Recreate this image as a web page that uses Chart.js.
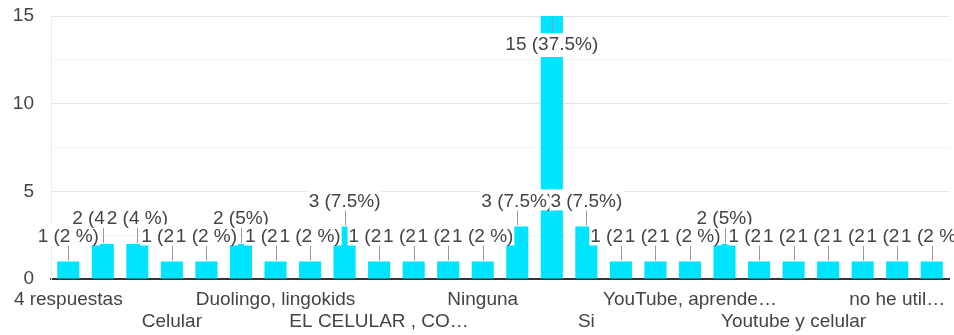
<!DOCTYPE html>
<html>
<head>
<meta charset="utf-8">
<script src="https://cdn.jsdelivr.net/npm/chart.js@4/dist/chart.umd.min.js"></script>
<style>
  html, body { margin: 0; padding: 0; background: #fff; }
  #wrap { width: 954px; height: 335px; position: relative; }
</style>
</head>
<body>
<div id="wrap"><canvas id="chart"></canvas></div>
<script>
// answers (only every third one gets a visible tick label)
const categories = [
  '4 respuestas', '', '', 'Celular', '', '', 'Duolingo, lingokids', '', '',
  'EL CELULAR , CO\u2026', '', '', 'Ninguna', '', '', 'Si', '', '',
  'YouTube, aprende\u2026', '', '', 'Youtube y celular', '', '', 'no he util\u2026', ''
];
const counts = [1, 2, 2, 1, 1, 2, 1, 1, 3, 1, 1, 1, 1, 3, 15, 3, 1, 1, 1, 2, 1, 1, 1, 1, 1, 1];
const percents = [
  '2 %', '4 %', '4 %', '2 %', '2 %', '5%', '2 %', '2 %', '7.5%', '2 %', '2 %', '2 %', '2 %',
  '7.5%', '37.5%', '7.5%', '2 %', '2 %', '2 %', '5%', '2 %', '2 %', '2 %', '2 %', '2 %', '2 %'
];
const yTicks = [0, 5, 10, 15];

const FONT = "'Liberation Sans', Arial, sans-serif";
const TEXT = '#444';

// value labels with a stem, white box behind the text
const stemLabels = {
  id: 'stemLabels',
  afterDatasetsDraw(chart) {
    const ctx = chart.ctx;
    const meta = chart.getDatasetMeta(0);
    const area = chart.chartArea;
    const spots = meta.data.map((bar, i) => {
      const inside = bar.y - 40 < area.top;
      return {
        x: bar.x,
        top: bar.y,
        inside,
        cy: inside ? bar.y + 29 : bar.y - 25,
        text: counts[i] + ' (' + percents[i] + ')'
      };
    });
    ctx.save();
    ctx.strokeStyle = '#999';
    ctx.lineWidth = 1;
    spots.forEach(s => {
      ctx.beginPath();
      const x = Math.round(s.x) + 0.5;
      if (s.inside) {
        ctx.moveTo(x, s.top + 2);
        ctx.lineTo(x, s.top + 15);
      } else {
        ctx.moveTo(x, s.top - 1);
        ctx.lineTo(x, s.top - 16);
      }
      ctx.stroke();
    });
    ctx.font = '19px ' + FONT;
    ctx.textAlign = 'center';
    ctx.textBaseline = 'middle';
    spots.forEach(s => {
      const w = ctx.measureText(s.text).width + 2;
      ctx.fillStyle = '#fff';
      ctx.fillRect(s.x - w / 2, s.cy - 12, w, s.inside ? 24 : 21);
      ctx.fillStyle = TEXT;
      ctx.fillText(s.text, s.x, s.cy);
    });
    ctx.restore();
  }
};

new Chart(document.getElementById('chart'), {
  type: 'bar',
  data: {
    labels: categories,
    datasets: [{
      data: counts,
      backgroundColor: '#00e5ff',
      barPercentage: 0.8,
      categoryPercentage: 0.8
    }]
  },
  options: {
    responsive: true,
    maintainAspectRatio: false,
    animation: false,
    layout: { autoPadding: false, padding: { top: 16, right: 5, left: 0, bottom: 0 } },
    plugins: { legend: { display: false }, tooltip: { enabled: false } },
    scales: {
      x: {
        afterFit(scale) { scale.height = 56; },
        grid: {
          offset: true,
          drawTicks: false,
          color: c => (c.index === 0 || c.index === counts.length) ? '#ebebeb' : 'rgba(0,0,0,0)'
        },
        border: { color: '#333', width: 2 },
        ticks: {
          autoSkip: false,
          maxRotation: 0,
          padding: 9,
          color: TEXT,
          font: { family: FONT, size: 19 },
          callback(value, index) {
            const name = categories[index];
            if (index % 6 === 0) return name;
            if (index % 6 === 3) return ['', name];
            return '';
          }
        }
      },
      y: {
        min: 0,
        max: 15,
        afterFit(scale) {
          scale.width = 51;
          // tick padding would otherwise push the plot down
          scale.paddingTop = 0;
          scale.paddingBottom = 0;
        },
        afterBuildTicks(scale) {
          const t = [];
          for (let v = 0; v <= 15; v += 2.5) t.push({ value: v });
          scale.ticks = t;
        },
        grid: {
          drawTicks: false,
          color: c => yTicks.includes(c.tick.value) ? '#e4e4e4' : '#f5f5f5'
        },
        border: { color: '#ebebeb' },
        ticks: {
          padding: 17,
          color: TEXT,
          font: { family: FONT, size: 19 },
          callback: v => yTicks.includes(v) ? String(v) : ''
        }
      }
    }
  },
  plugins: [stemLabels]
});
</script>
</body>
</html>
